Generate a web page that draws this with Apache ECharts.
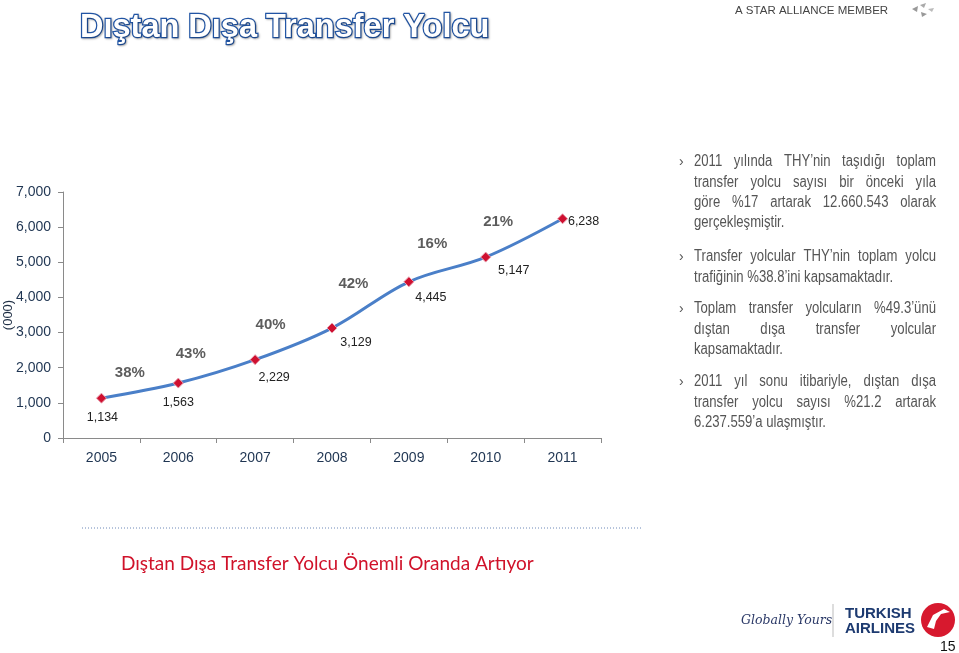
<!DOCTYPE html>
<html><head><meta charset="utf-8">
<script src="https://cdn.jsdelivr.net/npm/echarts@6/dist/echarts.min.js"></script>
<style>html,body{margin:0;padding:0;background:#fff}#c{width:959px;height:653px}</style>
</head><body><div id="c"></div>
<script>
// ---- data ----
const years = ['2005','2006','2007','2008','2009','2010','2011'];
const passengers = [1134, 1563, 2229, 3129, 4445, 5147, 6238];
const growthLabels = ['38%','43%','40%','42%','16%','21%'];
const yTicks = [0, 1000, 2000, 3000, 4000, 5000, 6000, 7000];
const titleText = 'Dıştan Dışa Transfer Yolcu';
const footerText = 'Dıştan Dışa Transfer Yolcu Önemli Oranda Artıyor';
const paragraphs = [
  ['2011 yılında THY’nin taşıdığı toplam','transfer yolcu sayısı bir önceki yıla','göre %17 artarak 12.660.543 olarak','gerçekleşmiştir.'],
  ['Transfer yolcular THY’nin toplam yolcu','trafiğinin %38.8’ini kapsamaktadır.'],
  ['Toplam transfer yolcuların %49.3’ünü','dıştan dışa transfer yolcular','kapsamaktadır.'],
  ['2011 yıl sonu itibariyle, dıştan dışa','transfer yolcu sayısı %21.2 artarak','6.237.559’a ulaşmıştır.']
];

// ---- layout / style ----
const valueLabelOffsets = [[1,19],[0,19],[19,18],[24,15],[22,16],[28,13],[21,3]];
const growthLabelOffsets = [[-10,-18],[-26,-18],[-23,-19],[-17,-21],[-15,-26],[-26,-16]];
const paraTops = [162, 257, 309, 382];
const lineH = 20.3;
const paraX = 694, paraW = 242;
const narrow = 0.82;
const bodyFont = '16px "Liberation Sans", Arial, sans-serif';
const bodyColor = '#555555';

const chart = echarts.init(document.getElementById('c'), null, {renderer:'canvas'});

const cv = document.createElement('canvas').getContext('2d');
cv.font = bodyFont;
const graphics = [];
function addText(x, y, text, font, fill, sx) {
  graphics.push({type:'text', x:x, y:y, scaleX: sx || 1,
    style:{text:text, font:font, fill:fill, verticalAlign:'middle'}});
}
paragraphs.forEach((lines, pi) => {
  const top = paraTops[pi];
  addText(679, top, '›', '14px "Liberation Sans", Arial', bodyColor, 1);
  lines.forEach((ln, li) => {
    const y = top + li * lineH;
    const last = li === lines.length - 1;
    const words = ln.split(' ');
    if (last || words.length < 2) {
      addText(paraX, y, ln, bodyFont, bodyColor, narrow);
    } else {
      const widths = words.map(w => cv.measureText(w).width * narrow);
      const total = widths.reduce((a,b)=>a+b,0);
      const gap = (paraW - total) / (words.length - 1);
      let x = paraX;
      words.forEach((w, wi) => {
        addText(x, y, w, bodyFont, bodyColor, narrow);
        x += widths[wi] + gap;
      });
    }
  });
});

// header
addText(735, 11, 'A STAR ALLIANCE MEMBER', '11.5px "Liberation Sans", Arial', '#444', 1);
graphics.push({type:'polygon', shape:{points:[[912,9],[918,6],[917,12]]}, style:{fill:'#999'}});
graphics.push({type:'polygon', shape:{points:[[920,5],[926,3],[924,8]]}, style:{fill:'#aaa'}});
graphics.push({type:'polygon', shape:{points:[[921,12],[927,14],[922,17]]}, style:{fill:'#999'}});
graphics.push({type:'polygon', shape:{points:[[928,9],[934,8],[932,12]]}, style:{fill:'#bbb'}});
// footer
graphics.push({type:'line', shape:{x1:82,y1:528,x2:643,y2:528}, style:{stroke:'#6d88b8', lineWidth:1, lineDash:[1,2]}});
addText(121, 564, footerText, '19px Lato, "Open Sans", sans-serif', '#D0122A', 1);
// logo
addText(741, 621, 'Globally Yours', 'italic 12.5px "DejaVu Serif", serif', '#2c3a68', 1);
graphics.push({type:'line', shape:{x1:833,y1:604,x2:833,y2:637}, style:{stroke:'#bbb', lineWidth:1}});
addText(845, 614, 'TURKISH', 'bold 15px "Liberation Sans", Arial', '#1d3a70', 1);
addText(845, 629, 'AIRLINES', 'bold 15px "Liberation Sans", Arial', '#1d3a70', 1);
graphics.push({type:'circle', shape:{cx:938, cy:620, r:17}, style:{fill:'#D7192E'}});
graphics.push({type:'polygon', shape:{points:[[927,627],[933,615],[944,609],[950,612],[941,614],[936,621],[934,629]]}, style:{fill:'#fff'}});
addText(940, 647, '15', '14px "Liberation Sans", Arial', '#111', 1);

const lineData = passengers.map((v, i) => ({
  value: v,
  label: {show:true, position:'inside', offset: valueLabelOffsets[i],
    formatter: echarts.format.addCommas(v), color:'#222', fontSize:12.5,
    fontFamily:'"Liberation Sans", Arial, sans-serif'}
}));
const growthData = growthLabels.map((t, i) => ({
  value: [i + 0.5, (passengers[i] + passengers[i+1]) / 2],
  label: {show:true, position:'inside', offset: growthLabelOffsets[i], formatter: t}
}));

chart.setOption({
  animation:false,
  backgroundColor:'#fff',
  title:{text:titleText, left:80, top:12, padding:0,
    textStyle:{fontFamily:'"Liberation Sans", Arial, sans-serif', fontWeight:'bold', fontSize:32.5,
      color:'#ffffff', textBorderColor:'#2256a6', textBorderWidth:2.5,
      textShadowColor:'rgba(0,0,0,0.25)', textShadowBlur:2, textShadowOffsetX:1, textShadowOffsetY:1}},
  graphic: graphics,
  grid:{left:63, right:358, top:192, bottom:215, containLabel:false, outerBoundsMode:'none'},
  xAxis:[
    {type:'category', data:years, boundaryGap:true,
     axisLine:{lineStyle:{color:'#8a8a8a', width:1}},
     axisTick:{show:true, length:5, lineStyle:{color:'#8a8a8a'}},
     axisLabel:{color:'#1f3552', fontSize:14, margin:13, fontFamily:'"Liberation Sans", Arial, sans-serif'}},
    {type:'value', min:-0.5, max:6.5, show:false}
  ],
  yAxis:{type:'value', min:yTicks[0], max:yTicks[yTicks.length-1], interval:1000,
    name:'(000)', nameLocation:'middle', nameGap:48, nameRotate:90, nameMoveOverlap:false,
    nameTextStyle:{color:'#1f2f45', fontSize:13, fontFamily:'"Liberation Sans", Arial, sans-serif'},
    axisLine:{show:true, onZero:false, lineStyle:{color:'#8a8a8a'}},
    axisTick:{show:true, length:5, lineStyle:{color:'#8a8a8a'}},
    splitLine:{show:false},
    axisLabel:{color:'#1f3552', fontSize:14, margin:12, fontFamily:'"Liberation Sans", Arial, sans-serif',
      formatter:v => echarts.format.addCommas(v)}},
  series:[
    {type:'line', data:lineData, smooth:0.35, xAxisIndex:0,
     lineStyle:{color:'#4a7fc8', width:3},
     symbol:'diamond', symbolSize:10,
     itemStyle:{color:'#cf1030', borderColor:'#e8a0b0', borderWidth:1}},
    {type:'scatter', xAxisIndex:1, data:growthData, symbolSize:0, silent:true,
     label:{color:'#333333', fontSize:15, fontWeight:'bold',
       fontFamily:'"Liberation Sans", Arial, sans-serif'}}
  ]
});
</script></body></html>
